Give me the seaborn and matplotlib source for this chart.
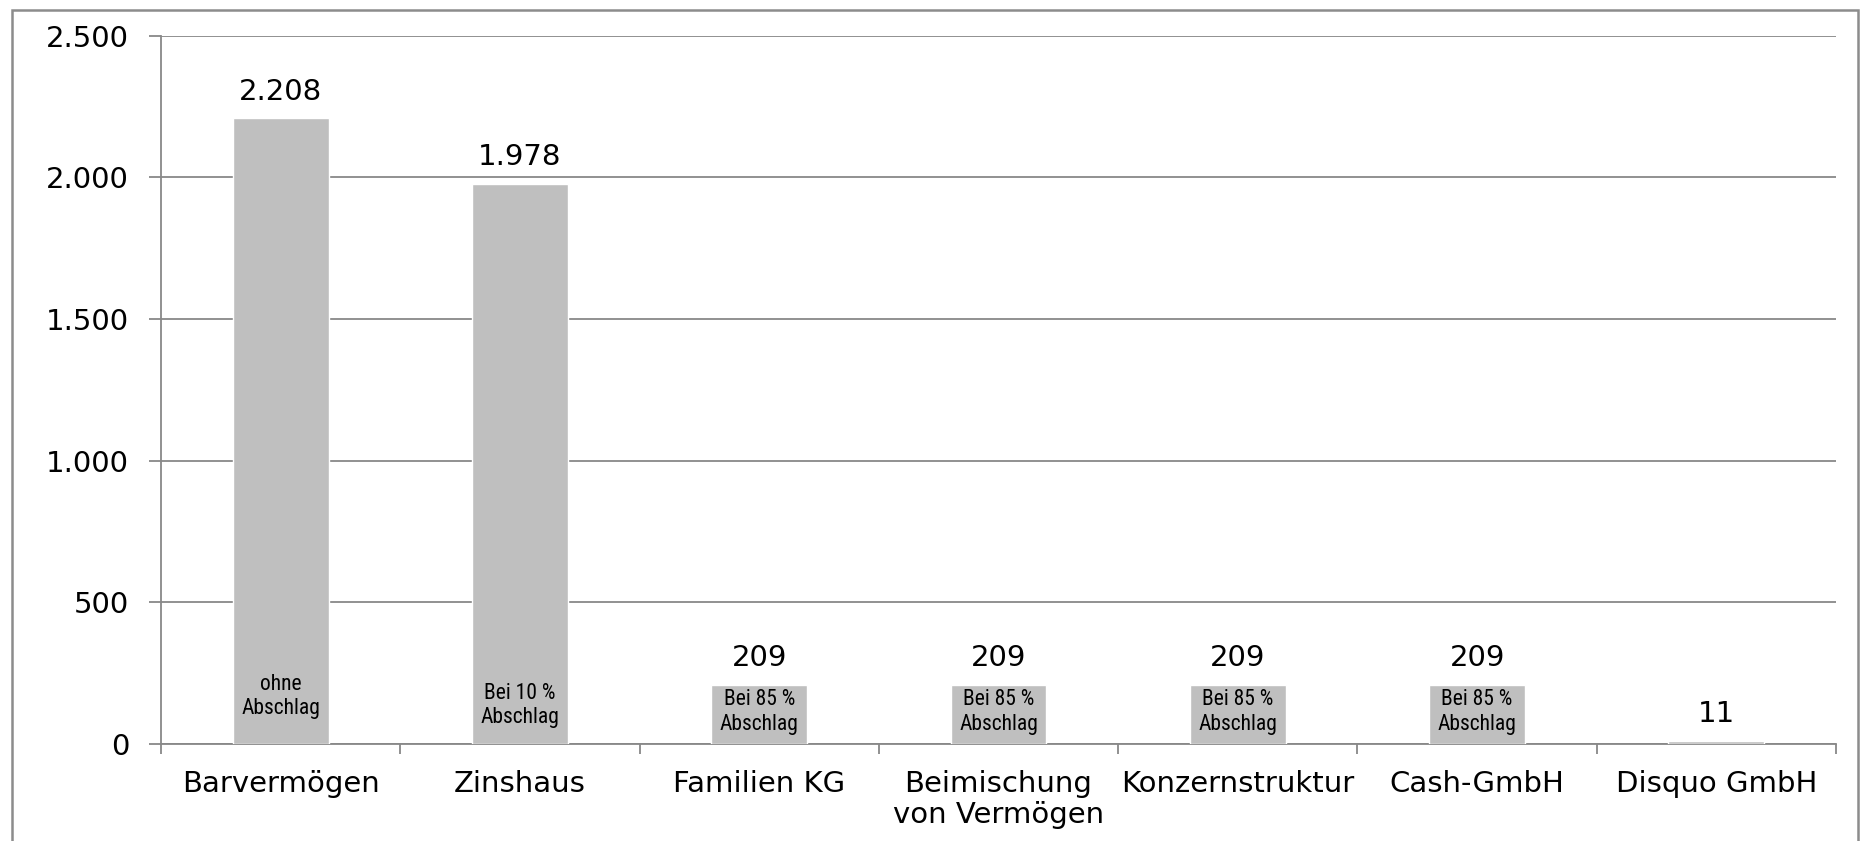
import matplotlib
matplotlib.use("Agg")
import matplotlib.pyplot as plt
import seaborn as sns
import pandas as pd
from matplotlib.patches import Rectangle
from matplotlib.ticker import FuncFormatter, FixedLocator

categories = ["Barvermögen", "Zinshaus", "Familien KG", "Beimischung\nvon Vermögen",
              "Konzernstruktur", "Cash-GmbH", "Disquo GmbH"]
values = [2208, 1978, 209, 209, 209, 209, 11]
inner_labels = ["ohne\nAbschlag", "Bei 10 %\nAbschlag", "Bei 85 %\nAbschlag", "Bei 85 %\nAbschlag",
                "Bei 85 %\nAbschlag", "Bei 85 %\nAbschlag", ""]
y_ticks = [0, 500, 1000, 1500, 2000, 2500]

sns.set_theme(style="white")
plt.rcParams['font.family'] = ['DejaVu Sans']

def de_fmt(v):
    return f"{int(round(v)):,}".replace(",", ".")

df = pd.DataFrame({"cat": categories, "val": values})

fig = plt.figure(figsize=(18.61, 8.41), dpi=100)
ax = fig.add_axes([161/1861, 1 - 744/841, (1836 - 161)/1861, (744 - 35.6)/841])

grid_col = "#888888"
sns.barplot(data=df, x="cat", y="val", color="#bfbfbf", width=0.4, ax=ax,
            saturation=1, zorder=3)

ax.set_ylim(0, 2500)
ax.set_xlim(-0.5, len(categories) - 0.5)
ax.set_yticks(y_ticks)
ax.yaxis.set_major_formatter(FuncFormatter(lambda v, p: de_fmt(v)))
ax.grid(axis="y", color=grid_col, linewidth=1.3, zorder=0)
ax.set_axisbelow(True)
ax.set_xlabel("")
ax.set_ylabel("")

for s in ["top", "right"]:
    ax.spines[s].set_visible(False)
for s in ["left", "bottom"]:
    ax.spines[s].set_color(grid_col)
    ax.spines[s].set_linewidth(1.3)

ax.tick_params(axis="y", which="major", left=True, length=9, width=1.3, color=grid_col,
               labelsize=21, pad=14, labelcolor="black")
ax.tick_params(axis="x", which="major", bottom=False, labelsize=21, pad=13, labelcolor="black")
ax.xaxis.set_minor_locator(FixedLocator([i - 0.5 for i in range(len(categories) + 1)]))
ax.tick_params(axis="x", which="minor", bottom=True, length=7, width=1.3, color=grid_col)
ax.set_xticks(range(len(categories)))
ax.set_xticklabels(categories, linespacing=1.1)

inner_offsets = [34, 28, 23, 23, 23, 23, 0]
for i, (v, lab) in enumerate(zip(values, inner_labels)):
    ax.annotate(de_fmt(v), xy=(i, v), xytext=(0, 19), textcoords="offset points",
                ha="center", va="center", fontsize=21, color="black", zorder=5)
    if lab:
        ax.annotate(lab, xy=(i, 0), xytext=(0, inner_offsets[i]), textcoords="offset points",
                    ha="center", va="center", fontsize=15.5, color="black", zorder=5,
                    family=['Liberation Sans Narrow', 'Roboto Condensed', 'Roboto', 'DejaVu Sans'],
                    linespacing=1.2)

# outer chart frame
fig.patches.append(Rectangle((12/1861, -0.05), (1858 - 12)/1861, 1.05 - 10/841,
                             transform=fig.transFigure, fill=False,
                             edgecolor="#8c8c8c", linewidth=1.8))

fig.savefig("out.png", dpi=100)
